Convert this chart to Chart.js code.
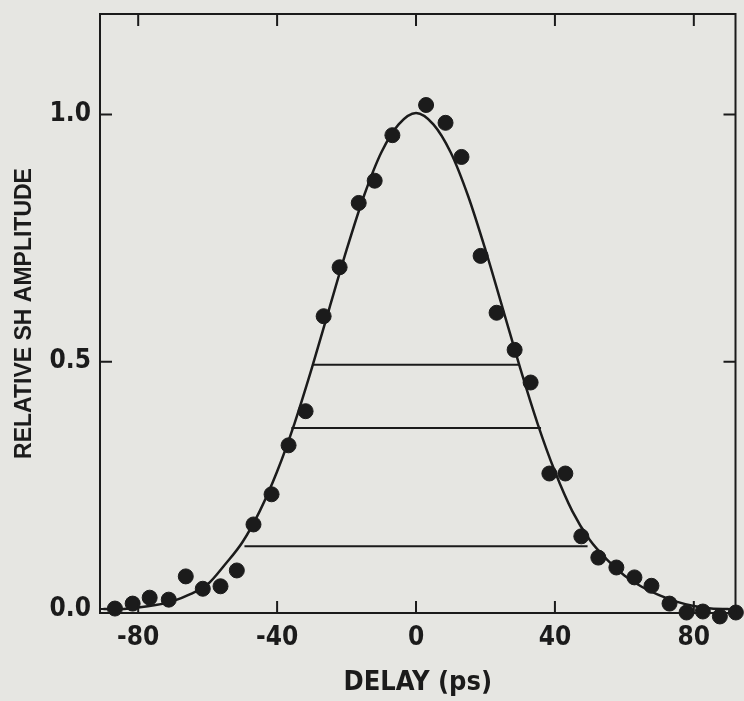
<!DOCTYPE html>
<html>
<head>
<meta charset="utf-8">
<title>Relative SH amplitude vs delay</title>
<script src="https://cdn.jsdelivr.net/npm/chart.js@4.4.1/dist/chart.umd.min.js"></script>
<style>
  body { margin: 0; background: #e6e6e2; }
  #wrap { width: 744px; height: 701px; }
</style>
</head>
<body>
<div id="wrap"><canvas id="shChart" width="744" height="701"></canvas></div>
<script>
// measured points (delay in ps, relative SH amplitude)
const delayPts = [-86.7, -81.6, -76.7, -71.2, -66.3, -61.4, -56.3, -51.6, -46.8, -41.6, -36.7, -31.8,
  -26.6, -22.0, -16.5, -11.9, -6.8, 2.9, 8.5, 13.1, 18.6, 23.2, 28.4, 33.0,
  38.4, 43.0, 47.6, 52.5, 57.7, 62.9, 67.8, 73.0, 77.9, 82.6, 87.5, 92.1];
const ampPts = [0.001, 0.011, 0.023, 0.019, 0.066, 0.041, 0.046, 0.078, 0.171, 0.232, 0.331, 0.400,
  0.592, 0.691, 0.821, 0.866, 0.958, 1.019, 0.983, 0.914, 0.714, 0.599, 0.524, 0.458,
  0.274, 0.274, 0.147, 0.104, 0.084, 0.064, 0.047, 0.011, -0.007, -0.005, -0.015, -0.007];

// fitted curve
const curveDelay = [-90, -85, -80, -75, -70, -65, -60, -55, -50, -45, -40, -35, -30, -25, -20, -15, -10, -5, 0,
  5, 10, 15, 20, 25, 30, 35, 40, 45, 50, 55, 60, 65, 70, 75, 80, 85, 90];
const curveAmp = [0.000, 0.000, 0.003, 0.008, 0.016, 0.030, 0.050, 0.090, 0.135, 0.198, 0.278, 0.375,
  0.487, 0.607, 0.726, 0.835, 0.923, 0.980, 1.003, 0.980, 0.923, 0.835, 0.726, 0.607, 0.487, 0.375,
  0.278, 0.198, 0.140, 0.100, 0.068, 0.045, 0.028, 0.015, 0.006, 0.001, 0.000];

// width markers (1/2, 1/e, 1/e^2)
const levelAmp = [0.494, 0.366, 0.127];
const levelLeft = [-29.9, -35.9, -49.4];
const levelRight = [29.8, 36.0, 49.4];

const xTickValues = [-80, -40, 0, 40, 80];
const yTickValues = [0, 0.5, 1.0];

const ink = '#1b1b1b';
const narrow = '"DejaVu Sans Condensed", "Liberation Sans", sans-serif';

const levelSets = levelAmp.map((a, i) => ({
  type: 'line',
  data: [{ x: levelLeft[i], y: a }, { x: levelRight[i], y: a }],
  borderColor: ink,
  borderWidth: 2,
  pointRadius: 0,
  order: 3
}));

// frame on all four sides plus inward tick marks
const frameTicks = {
  id: 'frameTicks',
  afterDatasetsDraw(chart) {
    const { ctx, chartArea: a, scales: { x, y } } = chart;
    const len = 12;
    ctx.save();
    ctx.strokeStyle = ink;
    ctx.lineWidth = 2;
    ctx.strokeRect(a.left, a.top, a.right - a.left, a.bottom - a.top);
    ctx.beginPath();
    x.ticks.forEach(t => {
      const px = x.getPixelForValue(t.value);
      ctx.moveTo(px, a.bottom); ctx.lineTo(px, a.bottom - len);
      ctx.moveTo(px, a.top); ctx.lineTo(px, a.top + len);
    });
    y.ticks.forEach(t => {
      const py = y.getPixelForValue(t.value);
      ctx.moveTo(a.left, py); ctx.lineTo(a.left + len, py);
      ctx.moveTo(a.right, py); ctx.lineTo(a.right - len, py);
    });
    ctx.stroke();
    ctx.restore();
  }
};

new Chart(document.getElementById('shChart'), {
  type: 'scatter',
  data: {
    datasets: [
      {
        data: delayPts.map((d, i) => ({ x: d, y: ampPts[i] })),
        backgroundColor: ink,
        borderColor: ink,
        pointRadius: 7.5,
        pointHoverRadius: 7.5,
        clip: false,
        order: 1
      },
      {
        type: 'line',
        data: curveDelay.map((d, i) => ({ x: d, y: curveAmp[i] })),
        borderColor: ink,
        borderWidth: 2.5,
        pointRadius: 0,
        cubicInterpolationMode: 'monotone',
        order: 2
      },
      ...levelSets
    ]
  },
  options: {
    responsive: false,
    animation: false,
    layout: { padding: { top: 14, right: 6, left: 0, bottom: 0 } },
    plugins: { legend: { display: false }, tooltip: { enabled: false } },
    scales: {
      x: {
        type: 'linear',
        min: -91,
        max: 92,
        afterBuildTicks: s => { s.ticks = xTickValues.map(v => ({ value: v })); },
        afterFit: s => { s.height = 88; s.paddingLeft = 0; s.paddingRight = 0; },
        grid: { display: false, drawTicks: false },
        border: { display: false },
        ticks: {
          padding: 10,
          color: ink,
          font: { family: narrow, size: 26, weight: 'bold' }
        },
        title: {
          display: true,
          text: 'DELAY (ps)',
          color: ink,
          padding: { top: 0, bottom: 2 },
          font: { family: narrow, size: 27, weight: 'bold' }
        }
      },
      y: {
        type: 'linear',
        min: -0.008,
        max: 1.203,
        afterBuildTicks: s => { s.ticks = yTickValues.map(v => ({ value: v })); },
        afterFit: s => { s.width = 100; s.paddingTop = 0; s.paddingBottom = 0; },
        grid: { display: false, drawTicks: false },
        border: { display: false },
        ticks: {
          padding: 9,
          color: ink,
          callback: v => v.toFixed(1),
          font: { family: narrow, size: 26, weight: 'bold' }
        },
        title: {
          display: true,
          text: 'RELATIVE SH AMPLITUDE',
          color: ink,
          padding: { top: 11, bottom: 0 },
          font: { family: '"Liberation Sans", Arial, sans-serif', size: 23, weight: 'bold' }
        }
      }
    }
  },
  plugins: [frameTicks]
});
</script>
</body>
</html>
